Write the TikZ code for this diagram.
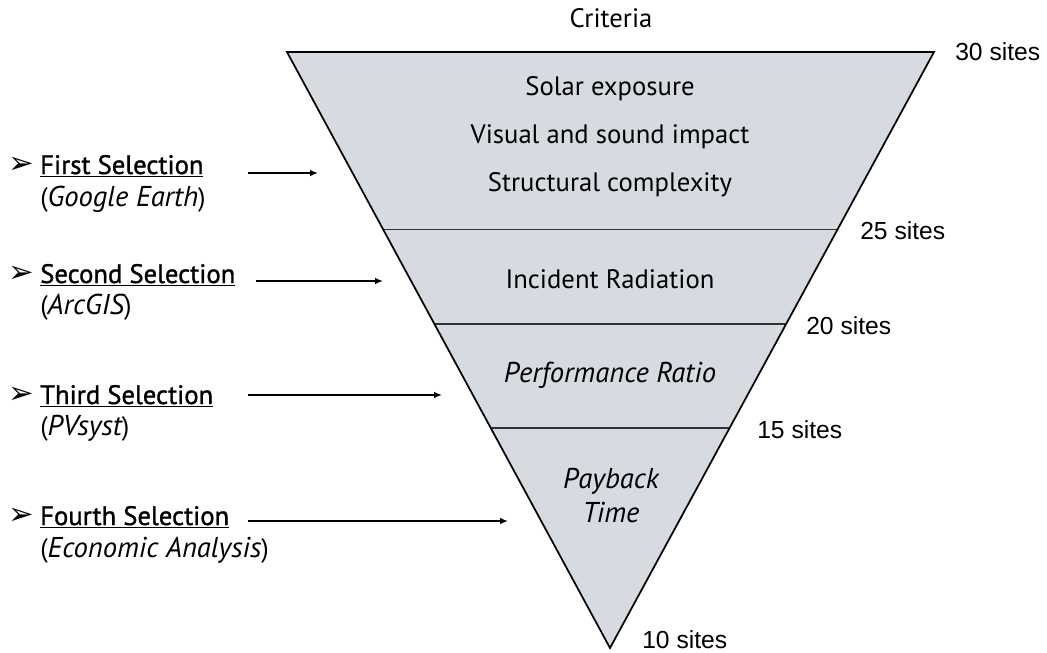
\documentclass[tikz,border=0pt]{standalone}
\usepackage{fontspec}
\usetikzlibrary{arrows.meta}
\setmainfont{PT Sans}
\newfontfamily\sitesfont{Liberation Sans}
\newfontfamily\symfont{DejaVu Sans}
\newfontface\heavier{PT Sans}[FakeBold=1.2]
\definecolor{funnelfill}{RGB}{214,218,225}
\newcommand{\itfs}{\fontsize{21.5}{25}\selectfont\itshape}
\newcommand{\subit}[1]{{\fontsize{21.5}{25}\selectfont\itshape #1}}
\begin{document}
\begin{tikzpicture}[x=0.75pt,y=-0.75pt,
  crit/.style={font=\fontsize{20}{24}\selectfont, anchor=center, inner sep=0pt},
  critit/.style={crit, font=\itfs},
  sites/.style={font=\sitesfont\fontsize{18.5}{22}\selectfont, anchor=west, inner sep=0pt},
  sel/.style={font=\heavier\fontsize{20}{24}\selectfont, anchor=west, inner sep=0pt},
  selsub/.style={font=\fontsize{20}{24}\selectfont, anchor=west, inner sep=0pt},
  bul/.style={font=\symfont\fontsize{23}{24}\selectfont, anchor=west, inner sep=0pt},
  divider/.style={line width=1.3pt, draw=black!80},
  edge/.style={line width=1.3pt, draw=black},
  pointer/.style={line width=1.1pt, -{Latex[length=6pt,width=5pt]}}
]
\useasboundingbox (0,0) rectangle (1047,653);
% funnel
\coordinate (TL) at (287,52);
\coordinate (TR) at (934,52);
\coordinate (AP) at (610,648);
\fill[funnelfill] (TL) -- (TR) -- (AP) -- cycle;
% dividers
\path (TL) -- (AP) coordinate[pos=0.298] (L1) coordinate[pos=0.456] (L2) coordinate[pos=0.631] (L3);
\path (TR) -- (AP) coordinate[pos=0.298] (R1) coordinate[pos=0.456] (R2) coordinate[pos=0.631] (R3);
\draw[divider] (L1) -- (R1);
\draw[divider] (L2) -- (R2);
\draw[divider] (L3) -- (R3);
\draw[edge, line join=miter] (TL) -- (TR) -- (AP) -- cycle;
% texts
\node[crit] (crit) at (611,18) {Criteria};
\node[crit] (c1) at (610,89) {Solar exposure};
\node[crit] (c2) at (610,137) {Visual and sound impact};
\node[crit] (c3) at (610,185) {Structural complexity};
\node[crit] (c4) at (610,279) {Incident Radiation};
\node[critit] (c5) at (610,375) {Performance Ratio};
\node[critit] (c6) at (611,481) {Payback};
\node[critit] (c7) at (611,513) {Time};
% site counts
\node[sites] (s30) at (955,52) {30 sites};
\node[sites] (s25) at (860,231) {25 sites};
\node[sites] (s20) at (806,326) {20 sites};
\node[sites] (s15) at (757,430) {15 sites};
\node[sites] (s10) at (642,640) {10 sites};
% selections
\node[bul] (b1) at (8,165) {➢};
\node[sel] (t1) at (40,166) {\underline{First Selection}};
\node[selsub] (u1) at (40,199) {(\subit{Google Earth})};
\node[bul] (b2) at (8,274) {➢};
\node[sel] (t2) at (40,275) {\underline{Second Selection}};
\node[selsub] (u2) at (40,307) {(\subit{ArcGIS})};
\node[bul] (b3) at (8,395) {➢};
\node[sel] (t3) at (40,396) {\underline{Third Selection}};
\node[selsub] (u3) at (40,428) {(\subit{PVsyst})};
\node[bul] (b4) at (8,516) {➢};
\node[sel] (t4) at (40,517) {\underline{Fourth Selection}};
\node[selsub] (u4) at (40,550) {(\subit{Economic Analysis})};
% arrows
\coordinate (a1s) at (248,173); \coordinate (a1e) at (318,173);
\coordinate (a2s) at (256,281); \coordinate (a2e) at (383,281);
\coordinate (a3s) at (248,395); \coordinate (a3e) at (442,395);
\coordinate (a4s) at (248,521); \coordinate (a4e) at (508,521);
\draw[pointer] (a1s) -- (a1e);
\draw[pointer] (a2s) -- (a2e);
\draw[pointer] (a3s) -- (a3e);
\draw[pointer] (a4s) -- (a4e);
\end{tikzpicture}
\end{document}
